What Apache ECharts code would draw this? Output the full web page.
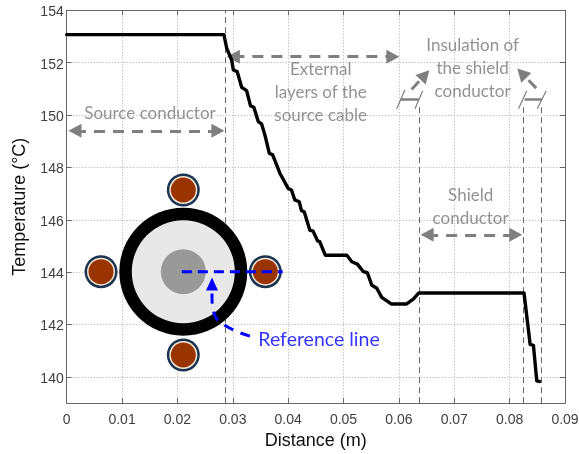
<!DOCTYPE html>
<html><head><meta charset="utf-8">
<style>html,body{margin:0;padding:0;background:#fff}#c{width:579px;height:454px}</style>
<script src="https://cdn.jsdelivr.net/npm/echarts@6/dist/echarts.min.js"></script>
</head><body><div id="c"></div>
<script>
const yTicks = [140,142,144,146,148,150,152,154];
const profileX = [0,.0284,.0289,.0298,.0301,.0308,.0316,.0325,.0332,.0338,.0346,.0352,.0358,.0361,.0366,.0372,.0385,.0400,.0406,.0412,.0420,.0424,.0429,.0439,.0445,.0453,.0457,.0467,.0506,.0515,.0525,.0536,.0543,.0551,.0560,.0569,.0586,.0614,.0626,.0636,.0826,.0837,.0843,.0849,.0854];
const profileT = [153.07,153.07,152.55,152.10,151.72,151.66,151.06,150.93,150.35,150.30,149.75,149.66,149.24,149.20,148.54,148.48,147.78,147.20,147.14,146.76,146.69,146.35,146.31,145.61,145.57,145.20,145.17,144.65,144.65,144.40,144.31,144.02,143.98,143.51,143.39,143.04,142.79,142.79,142.97,143.21,143.21,141.25,141.21,139.85,139.83];
const boundaries = [[.02864,154],[.0603,154.1],[.0636,150.4],[.0825,150.4],[.0858,150.4]];
const spanArrows = [[[.0015,149.4],[.0273,149.4]],[[.0301,152.23],[.0589,152.23]],[[.0651,145.43],[.0811,145.43]]];
const pointerArrows = [[[.0623,150.98],[.0647,151.53]],[[.0848,151.03],[.0822,151.6]]];
const dimensionBars = [[[.0603,150.62],[.0636,150.62]],[[.0827,150.62],[.0858,150.62]]];
const dimensionTicks = [[[.0596,150.24],[.0611,150.97]],[[.0629,150.24],[.0643,150.93]],[[.0816,150.24],[.0831,150.93]],[[.0850,150.24],[.0866,150.93]]];
const cableCentre = [.02106,144.02];
const strands = [[.02106,147.14],[.02106,140.84],[.0062,144.02],[.03587,144.02]];
const referenceLine = [[.0208,144.02],[.0390,144.02]];
const referencePointer = [[.0331,141.56],[.0280,142.05],[.02648,142.56],[.02624,143.13],[.02624,143.5]];
const referenceTip = [.02624,143.55];
const greyNotes = [
  ["Source conductor",.01504,150.07],
  ["External\nlayers of the\nsource cable",.04587,150.87],
  ["Insulation of\nthe shield\nconductor",.07332,151.76],
  ["Shield\nconductor",.07296,146.5]
];
const blueNotes = [["Reference line",.04557,141.41]];

const GREY='#7f7f7f', NOTE='#777', AX='#666', TXT='#404040', DOT='#aaa';
const circle=(name,data,size,color,z)=>({name,type:'scatter',data,symbol:'circle',symbolSize:size,z,silent:true,
  itemStyle:{color,opacity:1}});
const notes=(data,color,size,z)=>({type:'scatter',symbolSize:0,z,silent:true,
  data:data.map(d=>({value:[d[1],d[2]],label:{formatter:d[0]}})),
  label:{show:true,position:'inside',color,fontFamily:'Lato',fontSize:size,lineHeight:23,align:'center',verticalAlign:'middle'}});
const segs=a=>a.map(s=>[{coord:s[0]},{coord:s[1]}]);
const mk=(data,symbol,symbolSize,width,type,color,z)=>({type:'line',data:[],z,silent:true,
  markLine:{silent:true,animation:false,symbol,symbolSize,precision:6,label:{show:false},data,
    lineStyle:{color,width,type,opacity:1},emphasis:{disabled:true},z}});

const chart=echarts.init(document.getElementById('c'),null,{renderer:'canvas'});
chart.setOption({
  animation:false,backgroundColor:'#fff',
  grid:{left:66.7,top:10.3,right:14,bottom:50.8,show:false,containLabel:false,outerBoundsMode:'none'},
  xAxis:[{type:'value',min:0,max:.09,interval:.01,name:'Distance (m)',nameLocation:'middle',nameGap:28,
      nameTextStyle:{fontFamily:'Liberation Sans',fontSize:18,color:'#111'},
      axisLine:{show:true,onZero:false,lineStyle:{color:AX}},axisTick:{show:true,inside:true,length:5,lineStyle:{color:AX}},
      axisLabel:{fontFamily:'Liberation Sans',fontSize:14,color:TXT,margin:10,showMinLabel:true,showMaxLabel:true,hideOverlap:false,
        formatter:v=>String(+v.toFixed(2))},
      splitLine:{show:true,lineStyle:{color:DOT,type:[1,2],width:1}}},
    {type:'value',position:'top',min:0,max:.09,interval:.01,axisLine:{show:true,onZero:false,lineStyle:{color:AX}},
      axisTick:{show:true,inside:true,length:5,lineStyle:{color:AX}},axisLabel:{show:false},splitLine:{show:false}}],
  yAxis:[{type:'value',min:139,max:154,name:'Temperature (°C)',nameLocation:'middle',nameGap:28,
      nameTextStyle:{fontFamily:'Liberation Sans',fontSize:18,color:'#111'},
      axisLine:{show:true,onZero:false,lineStyle:{color:AX}},
      axisTick:{show:true,inside:true,length:5,customValues:yTicks,lineStyle:{color:AX}},
      axisLabel:{fontFamily:'Liberation Sans',fontSize:14,color:TXT,margin:3,verticalAlign:'top',lineHeight:4,customValues:yTicks,formatter:v=>String(v)},
      splitLine:{show:true,lineStyle:{color:DOT,type:[1,2],width:1}}},
    {type:'value',position:'right',min:139,max:154,axisLine:{show:true,onZero:false,lineStyle:{color:AX}},
      axisTick:{show:true,inside:true,length:5,customValues:yTicks,lineStyle:{color:AX}},axisLabel:{show:false},splitLine:{show:false}}],
  series:[
    mk(boundaries.map(b=>[{coord:[b[0],139]},{coord:[b[0],b[1]]}]),'none',0,1,[6,4],'#666',3),
    mk(segs(spanArrows),['triangle','triangle'],[14,13],3,[11,8],GREY,4),
    mk(segs(pointerArrows),['none','triangle'],[14,13],3,[11,8],GREY,4),
    mk(segs(dimensionBars),'none',0,2.5,'solid',GREY,4),
    mk(segs(dimensionTicks),'none',0,1.2,'solid',GREY,4),
    {name:'Temperature',type:'line',data:profileX.map((x,i)=>[x,profileT[i]]),showSymbol:false,symbol:'none',
      lineStyle:{color:'#000',width:3.4,cap:'round',join:'round'},z:5,silent:true},
    circle('outer sheath',[cableCentre],128,'#000',6),
    circle('insulation',[cableCentre],103,'#e8e8e8',7),
    circle('core',[cableCentre],45,'#999',8),
    circle('strand jacket',strands,33,'#1a3350',6),
    circle('strand ring',strands,28,'#f5e8d8',7),
    circle('strand copper',strands,25,'#993300',8),
    {type:'line',data:referenceLine,symbol:'none',z:9,silent:true,lineStyle:{color:'#0000ff',width:3,type:[10,6]}},
    {type:'line',data:referencePointer,smooth:true,symbol:'none',z:9,silent:true,lineStyle:{color:'#0000ff',width:3,type:[10,8]}},
    {type:'scatter',data:[referenceTip],symbol:'triangle',symbolSize:[12,13],z:9,silent:true,itemStyle:{color:'#0000ff',opacity:1}},
    notes(greyNotes,NOTE,17,10),
    notes(blueNotes,'#0000ff',19.5,10)
  ]
});
</script></body></html>
